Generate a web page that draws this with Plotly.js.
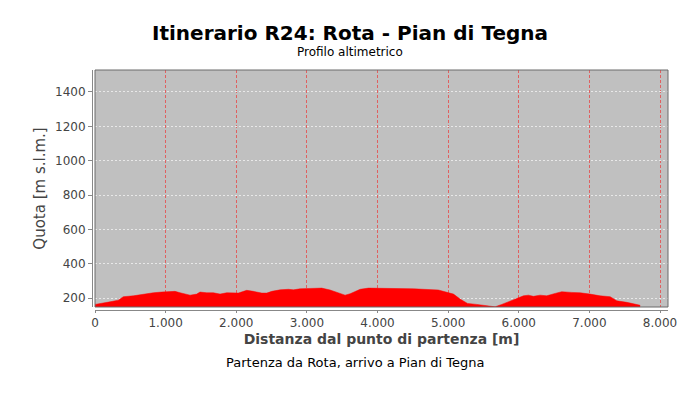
<!DOCTYPE html>
<html>
<head>
<meta charset="utf-8">
<script src="https://cdn.plot.ly/plotly-3.0.1.min.js"></script>
<style>html,body{margin:0;padding:0;background:#fff;}#chart{width:700px;height:400px;}</style>
</head>
<body>
<div id="chart"></div>
<script>
// Distance from start [m]
const distanza = [0, 118, 212, 330, 401, 543, 684, 826, 944, 1133, 1204, 1346, 1440, 1487, 1582, 1676, 1771, 1865, 2030, 2148, 2243, 2361, 2432, 2503, 2621, 2739, 2810, 2904, 3045, 3210, 3329, 3447, 3541, 3612, 3754, 3872, 3990, 4178, 4509, 4863, 5005, 5076, 5170, 5274, 5406, 5547, 5665, 5759, 5925, 6066, 6137, 6207, 6302, 6396, 6514, 6608, 6750, 6869, 7010, 7152, 7294, 7388, 7530, 7719];
// Elevation [m s.l.m.]
const quota = [163, 169, 178, 188, 208, 213, 223, 231, 235, 239, 231, 217, 223, 235, 231, 231, 223, 231, 229, 245, 239, 229, 229, 239, 248, 251, 248, 254, 256, 258, 247, 231, 217, 225, 251, 258, 258, 256, 254, 247, 233, 223, 194, 169, 163, 153, 149, 163, 188, 213, 217, 210, 217, 213, 227, 237, 233, 231, 223, 213, 208, 184, 175, 158];

const titolo = "Itinerario R24: Rota - Pian di Tegna";
const sottotitolo = "Profilo altimetrico";
const titoloX = "Distanza dal punto di partenza [m]";
const titoloY = "Quota [m s.l.m.]";
const nota = "Partenza da Rota, arrivo a Pian di Tegna";
const tickY = [200, 400, 600, 800, 1000, 1200, 1400];
const tickX = [0, 1000, 2000, 3000, 4000, 5000, 6000, 7000, 8000];

const FONT = "DejaVu Sans, sans-serif";

const trace = {
  x: distanza,
  y: quota,
  type: 'scatter',
  mode: 'lines',
  fill: 'tozeroy',
  fillcolor: '#ff0000',
  line: {color: '#ff0000', width: 0.5},
  hoverinfo: 'skip'
};

const layout = {
  width: 700,
  height: 400,
  paper_bgcolor: '#ffffff',
  plot_bgcolor: '#c0c0c0',
  separators: ',.',
  showlegend: false,
  margin: {l: 92, r: 32, t: 70, b: 90},
  font: {family: FONT, color: '#444444', size: 12},
  title: {
    text: '<b>' + titolo + '</b>',
    font: {family: FONT, size: 20, color: '#000000'},
    x: 0.5, xref: 'container', xanchor: 'center',
    y: 1 - 33/400, yref: 'container', yanchor: 'middle'
  },
  xaxis: {
    domain: [3/576, 1],
    anchor: 'free', position: 0,
    range: [0, 8113],
    tickvals: tickX,
    tickformat: ',d',
    showline: true, linecolor: '#888888', linewidth: 1,
    ticks: 'outside', ticklen: 2, tickcolor: '#888888',
    showgrid: true, gridcolor: 'rgba(255,0,0,0.5)', gridwidth: 1, griddash: '3px,2px',
    zeroline: false,
    tickfont: {family: FONT, size: 12, color: '#444444'},
    title: {text: '<b>' + titoloX + '</b>', font: {family: FONT, size: 14, color: '#444444'}, standoff: 4}
  },
  yaxis: {
    domain: [3/240, 1],
    anchor: 'free', position: 0,
    range: [148, 1528],
    tickvals: tickY,
    showline: true, linecolor: '#888888', linewidth: 1,
    ticks: 'outside', ticklen: 4, tickcolor: '#888888',
    showgrid: true, gridcolor: '#e8e8e8', gridwidth: 1, griddash: '2px,2px',
    zeroline: false,
    tickfont: {family: FONT, size: 12, color: '#444444'},
    title: {text: titoloY, font: {family: FONT, size: 15, color: '#444444'}, standoff: 4}
  },
  shapes: [
    {type: 'rect', xref: 'x domain', yref: 'y domain', x0: 0, x1: 1, y0: 0, y1: 1,
     line: {color: '#6a6a6a', width: 1}, fillcolor: 'rgba(0,0,0,0)', layer: 'above'}
  ],
  annotations: [
    {text: sottotitolo, xref: 'paper', yref: 'paper', x: (350-92)/576, y: (310-52)/240,
     xanchor: 'center', yanchor: 'middle', showarrow: false,
     font: {family: FONT, size: 12, color: '#000000'}},
    {text: nota, xref: 'paper', yref: 'paper', x: (355-92)/576, y: (310-362)/240,
     xanchor: 'center', yanchor: 'middle', showarrow: false,
     font: {family: FONT, size: 13, color: '#000000'}}
  ]
};

Plotly.newPlot('chart', [trace], layout, {staticPlot: true, displayModeBar: false});
</script>
</body>
</html>
